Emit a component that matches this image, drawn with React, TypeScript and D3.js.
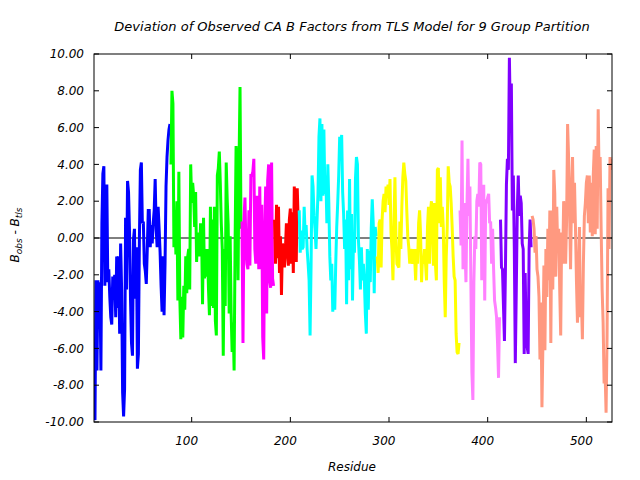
import React from "react";
import * as d3 from "d3";

const title = "Deviation of Observed CA B Factors from TLS Model for 9 Group Partition";
const xTicks = [100, 200, 300, 400, 500];
const yTicks = [-10, -8, -6, -4, -2, 0, 2, 4, 6, 8, 10];

const groupColors = ["#0000ff", "#00ff00", "#ff00ff", "#ff0000", "#00ffff", "#ffff00", "#ff80ff", "#8000ff", "#ff9980"];
const groupStarts = [1, 79, 151, 184, 209, 288, 372, 413, 445];

const blue = [-9.1, -9.9, -2.3, -7.2, -2.3, -4.5, -2.4, -7.2, 0.8, 3.5, 3.9, -2.6, 2.4, 2.9, -2.4, -1.7, -3.2, -4.3, -4.7, -2.1, -2.6, -2.0, -4.3, -1.0, -3.8, -1.0, -5.2, -0.3, -2.8, -8.4, -9.7, -8.2, 1.1, -2.8, 3.1, 2.5, 0.3, -3.3, -5.7, -6.4, -0.1, 0.5, -3.3, -0.5, -7.1, -6.3, -0.1, 3.7, 4.1, 0.8, 0.9, -1.4, -1.8, -2.5, -0.6, 1.5, 1.5, -0.5, 0.7, -0.3, 0.8, 1.5, 3.2, 0.5, -0.5, 1.7, 0.5, -0.8, -2.6, -4.0, -1.0, -4.2, -1.4, 2.8, 4.4, 5.3, 5.9, 6.2];
const green = [4.0, 8.0, 7.3, -0.5, 1.5, -0.9, 2.0, -3.4, 3.6, -3.3, -5.5, -3.2, -5.4, -2.6, -3.9, -1.0, -3.0, -1.0, -0.6, -2.8, 4.0, 1.9, 3.0, 2.3, 0.6, 2.5, -1.3, 0.3, -0.6, -1.0, 0.8, 0.5, -3.6, 1.1, -2.2, -0.6, -2.1, -0.6, -2.7, -4.2, 1.7, -3.7, 1.0, -3.8, 1.7, -4.5, -5.3, 3.4, 3.8, 4.7, 3.0, 0.8, -0.6, -6.4, -0.6, -3.7, 4.1, 2.1, 0.7, -4.1, 0.1, -4.1, -6.2, -4.6, -7.2, -0.3, 5.0, 4.1, -2.3, 4.1, 8.2, 0.5];
const magenta = [0.9, -5.7, 1.0, 2.2, -0.5, -1.4, -1.7, 1.5, -1.5, 3.4, 3.4, 3.6, 4.3, -0.6, -1.4, 2.3, 1.7, -1.7, 2.8, -1.7, 1.8, -5.4, -6.6, 0.5, 2.8, -4.1, 3.1, 4.0, -2.3, -2.7, 4.1, -2.2, -2.6];
const red = [1.0, -1.4, 1.8, -1.1, 1.7, -1.9, 0.1, -3.1, -0.3, -0.6, -1.6, -0.6, 0.8, -0.6, -1.5, 1.0, 1.6, -1.4, 1.4, -1.9, 2.8, -0.5, -1.3, 2.7, 0.8];
const cyan = [1.5, -0.8, 0.4, -0.6, -0.5, 1.7, 0.2, 0.7, -0.6, -1.4, -2.3, -5.3, -1.5, 3.4, 2.8, 1.2, 0.5, -0.6, 0.9, 2.4, 5.5, 6.5, 2.0, 6.2, 2.3, 5.9, 2.4, 3.4, 0.8, 4.0, 1.9, -1.0, -2.3, -1.4, -4.0, -2.8, -3.9, -1.4, 0.6, 1.9, 3.4, 5.5, 4.9, 5.6, 2.5, 1.3, -0.6, 1.0, -3.6, 1.5, -2.3, 3.2, -1.7, 1.3, -3.4, 0.1, -0.8, 3.2, 4.4, 4.0, -0.1, -1.2, -2.8, -0.5, -2.3, -1.4, -2.3, -4.1, -5.2, -0.6, -3.9, -0.7, -2.4, 0.5, 2.1, 0.8, -3.0, 0.6, 0.1];
const yellow = [-1.0, -1.9, 0.8, 1.0, -1.6, 1.0, 2.0, 2.4, 1.4, 2.8, 2.3, 2.9, 1.8, 3.2, 0.3, -0.6, -2.3, 0.8, 3.3, 0.1, -1.4, -1.5, -1.6, 0.9, -0.6, 1.7, 3.3, 4.1, 3.5, 3.1, 1.5, 0.1, -0.5, -1.4, -0.6, -1.0, -1.4, -0.6, -1.1, -2.3, -0.6, -1.4, 0.8, 1.5, 0.2, -2.4, -1.0, -1.4, -0.6, -1.4, -2.3, 0.6, 1.7, -1.4, 1.4, 2.0, 0.6, -1.5, 1.9, -1.4, -2.3, 3.7, 3.8, 0.8, 3.3, 0.6, 1.7, 0.6, -2.4, -4.3, -1.0, 0.6, 3.9, 3.0, 2.8, 1.9, 0.6, -1.0, -2.1, -2.3, -5.2, -6.2, -6.3, -5.7];
const pink = [1.5, -0.4, 5.3, -1.7, 1.9, -0.6, -2.4, 1.7, 4.3, 1.2, 2.8, -2.6, -7.3, -8.8, -2.4, 0.1, -0.6, 2.0, 2.4, 1.7, 4.1, 4.0, -2.3, 1.0, 2.9, -3.4, 2.1, 1.9, 2.2, 2.4, 0.8, 0.9, -1.4, 0.5, -1.7, -3.4, -3.8, -4.3, -5.7, -7.6, -4.3];
const purple = [1.0, -1.6, -1.7, -3.7, -5.6, -1.7, 2.9, 4.3, 3.7, 9.8, 6.4, 8.4, 1.5, 3.4, -0.6, -6.8, -2.8, 1.5, 3.4, 1.2, 2.3, 1.9, -0.3, -0.6, -6.3, -1.9, -5.3, -5.9, -6.3, -0.6, 1.0, -0.5];
const salmon = [1.2, 1.0, 0.5, -0.8, 0.1, -1.7, -2.1, -3.2, -6.6, -3.5, -9.2, -5.7, -1.5, -6.1, -0.6, -3.2, 0.5, -2.3, 1.5, -5.7, 1.5, -2.8, 3.7, 2.4, -2.1, 1.7, -0.6, 0.5, -2.8, -5.3, 0.3, -1.4, 2.0, 1.2, -1.4, 1.0, 6.2, 4.4, 1.5, -1.7, 2.3, 4.4, 0.8, 3.0, 0.5, -2.4, -4.6, -2.1, 0.6, -4.3, -3.4, -5.5, -1.4, 1.2, 1.9, 3.0, 3.4, 0.8, 3.4, 0.3, 3.0, 0.1, 3.4, 4.8, 0.2, 5.0, 0.5, 7.0, 3.0, 4.4, 0.5, -2.8, -4.6, -7.9, -7.3, -9.5, -5.3, 2.7, -0.6, 4.4, 3.7, 4.3];

const groups = [blue, green, magenta, red, cyan, yellow, pink, purple, salmon];

const W = 640, H = 480;
const M = { left: 94, right: 612, top: 54, bottom: 422 };
const FONT = "'DejaVu Sans', sans-serif";

export default function App() {
  const x = d3.scaleLinear().domain([1, 526]).range([M.left, M.right]);
  const y = d3.scaleLinear().domain([-10, 10]).range([M.bottom, M.top]);
  const line = d3.line<[number, number]>().x(d => x(d[0])).y(d => y(d[1]));
  const tl = 5;
  return (
    <div style={{ position: "absolute", left: 0, top: 0 }}>
      <svg width={W} height={H} style={{ display: "block", background: "#fff" }}>
        <defs>
          <clipPath id="plot">
            <rect x={M.left} y={M.top} width={M.right - M.left} height={M.bottom - M.top} />
          </clipPath>
        </defs>
        <line x1={M.left} x2={M.right} y1={y(0)} y2={y(0)} stroke="#000" strokeWidth={1} />
        <g clipPath="url(#plot)">
          {groups.map((vals, gi) => (
            <path key={gi}
              d={line(vals.map((v, i) => [groupStarts[gi] + i, v] as [number, number])) || ""}
              fill="none" stroke={groupColors[gi]} strokeWidth={3} strokeLinejoin="miter" strokeMiterlimit={2} />
          ))}
        </g>
        <rect x={M.left} y={M.top} width={M.right - M.left} height={M.bottom - M.top} fill="none" stroke="#000" strokeWidth={1} />
        {yTicks.map(t => (
          <g key={"y" + t}>
            <line x1={M.left} x2={M.left + tl} y1={y(t)} y2={y(t)} stroke="#000" />
            <line x1={M.right} x2={M.right - tl} y1={y(t)} y2={y(t)} stroke="#000" />
            <text x={84} y={y(t)} dy="0.35em" textAnchor="end" fontFamily={FONT} fontStyle="italic" fontSize={12}>{t.toFixed(2)}</text>
          </g>
        ))}
        {xTicks.map(t => (
          <g key={"x" + t}>
            <line x1={x(t)} x2={x(t)} y1={M.bottom} y2={M.bottom - tl} stroke="#000" />
            <line x1={x(t)} x2={x(t)} y1={M.top} y2={M.top + tl} stroke="#000" />
            <text x={x(t) - 5} y={445} textAnchor="middle" fontFamily={FONT} fontStyle="italic" fontSize={12}>{t}</text>
          </g>
        ))}
        <text x={352} y={471} textAnchor="middle" fontFamily={FONT} fontStyle="italic" fontSize={12}>Residue</text>
        <text x={352} y={31} textAnchor="middle" fontFamily={FONT} fontStyle="italic" fontSize={13}>{title}</text>
        <text transform={`translate(19,${y(0) - 3}) rotate(-90)`} textAnchor="middle" fontFamily={FONT} fontStyle="italic" fontSize={12}>
          <tspan>B</tspan><tspan fontSize={9} dy={3}>obs</tspan><tspan dy={-3}> - B</tspan><tspan fontSize={9} dy={3}>tls</tspan>
        </text>
      </svg>
    </div>
  );
}
